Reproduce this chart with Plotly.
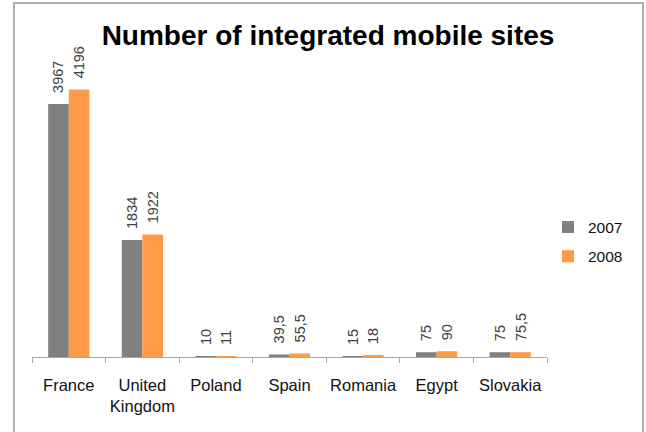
import plotly.graph_objects as go

categories = ["France", "United<br>Kingdom", "Poland", "Spain", "Romania", "Egypt", "Slovakia"]
values_2007 = [3967, 1834, 10, 39.5, 15, 75, 75]
values_2008 = [4196, 1922, 11, 55.5, 18, 90, 75.5]
series_names = ["2007", "2008"]
colors = ["#808080", "#FF9A48"]


def fmt(v):
    s = str(int(v)) if float(v).is_integer() else str(v).replace(".", ",")
    return "\u00a0\u00a0" + s


FONT = "Liberation Sans, Arial"

fig = go.Figure()
for name, vals, col in zip(series_names, [values_2007, values_2008], colors):
    fig.add_trace(go.Bar(
        x=categories, y=vals, name=name, legendgroup=name,
        marker=dict(color=col, line=dict(width=0)),
        text=[fmt(v) for v in vals],
        textposition="outside", textangle=-90, constraintext="none",
        textfont=dict(size=14.5, color="#404040", family=FONT),
        cliponaxis=False,
    ))

W, H = 646, 432
L, R, T, B = 32, 99, 70, 75
pw = W - L - R
ph = H - T - B


def px(xp):
    return (xp - L) / pw


def py(yp):
    return (H - B - yp) / ph


fig.update_layout(
    width=W, height=H,
    margin=dict(l=L, r=R, t=T, b=B, autoexpand=False),
    paper_bgcolor="white", plot_bgcolor="white",
    barmode="group", bargap=0.44, bargroupgap=0,
    font=dict(family=FONT, color="#111111", size=16),
    title=dict(text="<b>Number of integrated mobile sites</b>",
               font=dict(size=28, color="black", family=FONT),
               x=328 / W, xanchor="center", xref="container",
               y=1 - 35 / H, yanchor="middle", yref="container"),
    xaxis=dict(showline=True, linecolor="#a6a6a6", linewidth=1,
               ticks="outside", tickson="boundaries", ticklen=5, tickcolor="#a6a6a6",
               tickangle=0, ticklabelstandoff=13,
               tickfont=dict(size=16.5, color="#111111"), showgrid=False),
    yaxis=dict(range=[0, 4500], visible=False, showgrid=False),
    legend=dict(xref="container", yref="container", x=548 / W, y=1 - 242 / H,
                xanchor="left", yanchor="middle",
                font=dict(size=15.5, color="#111111"), itemwidth=30,
                tracegroupgap=6),
    showlegend=True,
    shapes=[dict(type="rect", xref="paper", yref="paper",
                 x0=px(14), x1=px(643), y0=py(3), y1=py(440),
                 line=dict(color="#b0b0b0", width=2), fillcolor="rgba(0,0,0,0)",
                 layer="below")],
)

fig.write_html("out.html", config={"displayModeBar": False},
               post_script="document.body.style.margin='0';")
